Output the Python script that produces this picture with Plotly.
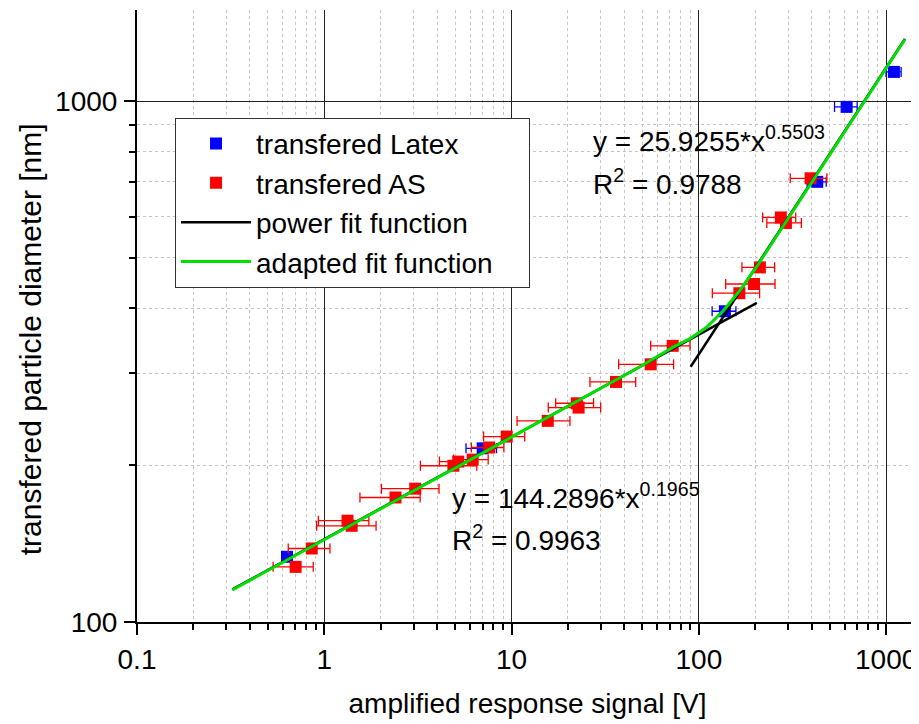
import plotly.graph_objects as go

# ---- data ----
latex_x = [0.632, 7.01, 137.7, 428.5, 615, 1100]
latex_y = [133.4, 215.5, 395, 700, 975, 1138]
latex_xerr = [0.04, 1.3, 20, 50, 85, 102]

as_x = [0.703, 0.857, 1.33, 1.40, 2.40, 3.06, 4.89, 5.19, 6.2, 7.6, 9.42, 15.6,
        22.3, 22.8, 36.1, 55.3, 72.5, 164.5, 197, 211.8, 274, 291.6, 395]
as_y = [127.6, 138.4, 156.5, 153, 173.4, 180.3, 199.5, 203.2, 205, 216.3, 227, 243.3,
        263, 258, 289, 312.4, 339, 427.8, 445.6, 479.6, 598, 583.6, 711]
as_xerr = [0.17, 0.215, 0.40, 0.49, 0.85, 1.04, 1.63, 1.07, 1.3, 1.5, 2.33, 4.9,
           5.1, 7.1, 9.9, 18, 17.2, 46.5, 58, 42, 55, 61, 87.5]

# power fit functions (two segments), end points
fit_low_x = [0.323, 204]
fit_low_y = [115.5, 410]
fit_high_x = [90.4, 1259]
fit_high_y = [309, 1317]

# adapted fit function
adapt_x = [0.323, 48.5, 73, 89.6, 110, 135, 165.7, 203.5, 1259]
adapt_y = [115.2, 309, 337, 350, 368, 396, 433, 481, 1313]

x_major = [0.1, 1, 10, 100, 1000]
x_major_text = ["0.1", "1", "10", "100", "1000"]
y_major = [100, 1000]
y_major_text = ["100", "1000"]

x_minor = [m * d for d in (0.1, 1, 10, 100) for m in range(2, 10)]
y_minor = [m * 100 for m in range(2, 10)]

FONT = "Arial, Liberation Sans, sans-serif"
FS = 28
X_RANGE = [-1, 3.17]
Y_RANGE = [2, 3.175]
PAD = "\u00a0" * 4  # widens the legend box like the reference

fig = go.Figure()

fig.add_trace(go.Scatter(
    x=latex_x, y=latex_y, mode="markers", name="transfered Latex",
    marker=dict(symbol="square", size=12, color="#0000ff"),
    error_x=dict(type="data", array=latex_xerr, color="#0000ff", thickness=1.3, width=5),
))
fig.add_trace(go.Scatter(
    x=as_x, y=as_y, mode="markers", name="transfered AS",
    marker=dict(symbol="square", size=12, color="#ff0000"),
    error_x=dict(type="data", array=as_xerr, color="#ff0000", thickness=1.3, width=5),
))
fig.add_trace(go.Scatter(
    x=fit_low_x + [None] + fit_high_x, y=fit_low_y + [None] + fit_high_y,
    mode="lines", name="power fit function",
    line=dict(color="#000000", width=2.5),
))
fig.add_trace(go.Scatter(
    x=adapt_x, y=adapt_y, mode="lines", name="adapted fit function" + PAD,
    line=dict(color="#00e000", width=3),
))

axis_common = dict(
    type="log", showline=True, linecolor="black", linewidth=2,
    tickcolor="black", tickwidth=2, ticklen=11,
    tickfont=dict(family=FONT, size=FS, color="black"),
    zeroline=False,
)
minor_grid = dict(showgrid=True, gridcolor="#c4c4c4", gridwidth=1, griddash="3px,3px")

fig.update_layout(
    width=911, height=716,
    margin=dict(l=129, r=1, t=2, b=102),
    paper_bgcolor="white", plot_bgcolor="white",
    font=dict(family=FONT, size=FS, color="black"),
    showlegend=True,
    legend=dict(
        x=0.0487, y=0.824, xanchor="left", yanchor="top",
        bgcolor="white", bordercolor="#333333", borderwidth=1,
        font=dict(family=FONT, size=FS, color="black"),
        itemwidth=70, tracegroupgap=0,
    ),
    xaxis=dict(
        **axis_common, range=X_RANGE, ticks="outside",
        tickmode="array", tickvals=x_major, ticktext=x_major_text,
        showgrid=True, gridcolor="#222222", gridwidth=1,
        minor=dict(tickmode="array", tickvals=x_minor, ticks="outside", ticklen=6,
                   tickwidth=2, tickcolor="black", **minor_grid),
        title=dict(text="amplified response signal [V]", font=dict(family=FONT, size=FS), standoff=20),
        ticklabelstandoff=0,
    ),
    yaxis=dict(
        **axis_common, range=Y_RANGE, ticks="outside",
        tickmode="array", tickvals=y_major, ticktext=y_major_text,
        showgrid=True, gridcolor="#222222", gridwidth=1,
        minor=dict(tickmode="array", tickvals=y_minor, ticks="outside", ticklen=6,
                   tickwidth=2, tickcolor="black", **minor_grid),
        ticklabelstandoff=1,
    ),
    xaxis2=dict(
        **axis_common, range=X_RANGE, overlaying="x", side="top", anchor="y",
        ticks="inside", tickmode="array", tickvals=x_major, showticklabels=False,
        showgrid=False,
        minor=dict(tickmode="array", tickvals=x_minor, ticks="inside", ticklen=6,
                   tickwidth=2, tickcolor="black", showgrid=False),
    ),
    yaxis2=dict(
        **axis_common, range=Y_RANGE, overlaying="y", side="right", anchor="x",
        ticks="inside", tickmode="array", tickvals=y_major, showticklabels=False,
        showgrid=False,
        minor=dict(tickmode="array", tickvals=y_minor, ticks="inside", ticklen=6,
                   tickwidth=2, tickcolor="black", showgrid=False),
    ),
)

# y-axis title (placed as rotated text to match the reference position)
fig.add_annotation(xref="paper", yref="paper", x=-0.137, y=0.462, xanchor="center", yanchor="middle",
                   text="transfered particle diameter [nm]", textangle=-90, showarrow=False,
                   font=dict(family=FONT, size=30, color="black"))

ann_font = dict(family=FONT, size=FS, color="black")
fig.add_annotation(xref="paper", yref="paper", x=0.581, y=0.756, xanchor="left", yanchor="bottom",
                   text="y = 25.9255*x<sup>0.5503</sup>", showarrow=False, font=ann_font)
fig.add_annotation(xref="paper", yref="paper", x=0.581, y=0.719, xanchor="left", yanchor="middle",
                   text="R<sup>2</sup> = 0.9788", showarrow=False, font=ann_font)
fig.add_annotation(xref="paper", yref="paper", x=0.4008, y=0.173, xanchor="left", yanchor="bottom",
                   text="y = 144.2896*x<sup>0.1965</sup>", showarrow=False, font=ann_font)
fig.add_annotation(xref="paper", yref="paper", x=0.4008, y=0.137, xanchor="left", yanchor="middle",
                   text="R<sup>2</sup> = 0.9963", showarrow=False, font=ann_font)

fig.write_html("out.html")
